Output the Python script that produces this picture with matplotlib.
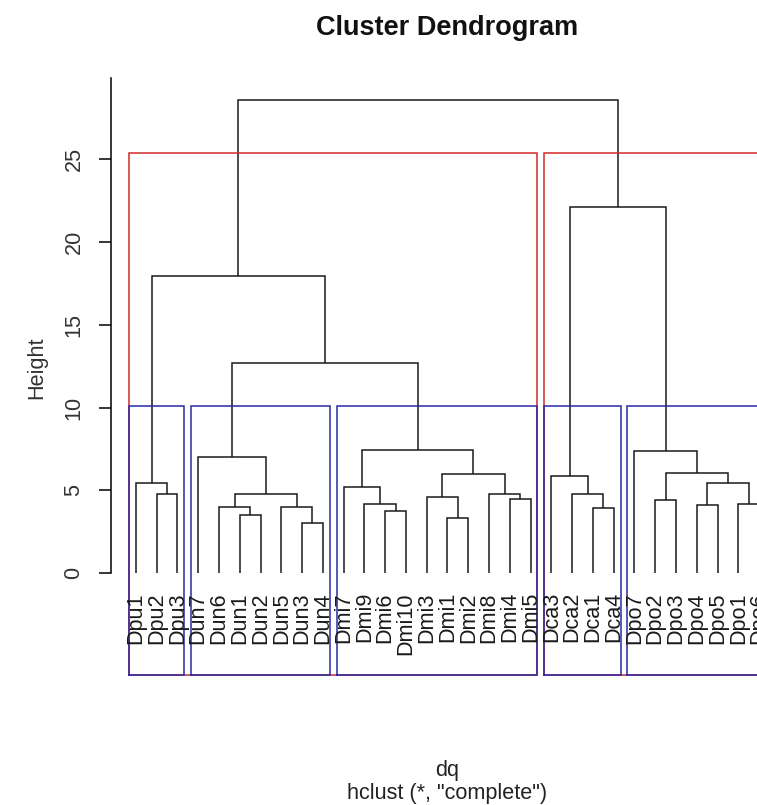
import matplotlib
matplotlib.use('Agg')
import matplotlib.pyplot as plt
import numpy as np

# ---------------- data ----------------
labels = ["Dpu1", "Dpu2", "Dpu3",
          "Dun7", "Dun6", "Dun1", "Dun2", "Dun5", "Dun3", "Dun4",
          "Dmi7", "Dmi9", "Dmi6", "Dmi10", "Dmi3", "Dmi1", "Dmi2", "Dmi8", "Dmi4", "Dmi5",
          "Dca3", "Dca2", "Dca1", "Dca4",
          "Dpo7", "Dpo2", "Dpo3", "Dpo4", "Dpo5", "Dpo1", "Dpo6"]

# R-style merge matrix: negative = leaf (1-based position in labels), positive = earlier merge row
merge_left = [-9, -16, -6, -13, -23, -5, -8, -28, -12, -30,
              -19, -26, -15, 6, -18, -22, -2, -11, 8, -1,
              -21, 13, 12, -4, -25, 18, 24, 20, 21, 28]
merge_right = [-10, -17, -7, -14, -24, 3, 1, -29, 4, -31,
               -20, -27, 2, 7, 11, 5, -3, 9, 10, 17,
               16, 15, 19, 14, 23, 22, 26, 27, 25, 29]
merge_height = [3.06, 3.34, 3.50, 3.74, 3.94, 4.00, 4.02, 4.11, 4.17, 4.18,
                4.47, 4.45, 4.61, 4.77, 4.77, 4.77, 4.79, 5.21, 5.45, 5.47,
                5.90, 5.98, 6.08, 7.00, 7.39, 7.45, 12.72, 17.93, 22.14, 28.58]

yticks = [0, 5, 10, 15, 20, 25]
k_red = 2
k_blue = 5

# ---------------- figure ----------------
plt.rcParams['font.family'] = ['Liberation Sans', 'DejaVu Sans']
W, H = 757, 805
fig = plt.figure(figsize=(W / 100, H / 100), dpi=100)
ax = fig.add_axes([111 / W, 130 / H, 673 / W, 597 / H])

n = len(labels)
leaf_x = np.arange(1, n + 1)
merge_x = []


def node_pos(ref):
    if ref < 0:
        return leaf_x[-ref - 1], 0.0
    return merge_x[ref - 1], merge_height[ref - 1]


lc = '#1a1a1a'
for l, r, h in zip(merge_left, merge_right, merge_height):
    xl, yl = node_pos(l)
    xr, yr = node_pos(r)
    ax.plot([xl, xl, xr, xr], [yl, h, h, yr], color=lc, lw=1.1,
            solid_joinstyle='miter', solid_capstyle='butt')
    merge_x.append((xl + xr) / 2)

# leaf labels
for x, lab in zip(leaf_x, labels):
    ax.annotate(lab, xy=(x, 0), xytext=(0, -13.5), textcoords='offset points',
                rotation=90, ha='center', va='top', fontsize=15.6, color='#1a1a1a',
                annotation_clip=False)

ylo, yhi = -6.14, 29.9
ax.set_xlim(1 - 0.04 * (n - 1), n + 0.04 * (n - 1))
ax.set_ylim(ylo, yhi)


def leaves_of(ref):
    if ref < 0:
        return [-ref]
    return leaves_of(merge_left[ref - 1]) + leaves_of(merge_right[ref - 1])


def clusters(k):
    nm = len(merge_height)
    removed = set(range(nm - k + 2, nm + 1))
    roots = []
    for m in removed:
        for c in (merge_left[m - 1], merge_right[m - 1]):
            if c < 0 or c not in removed:
                roots.append(c)
    spans = []
    for r in roots:
        lv = leaves_of(r)
        spans.append((min(lv), max(lv)))
    return sorted(spans)


def draw_rects(k, color):
    hs = sorted(merge_height, reverse=True)
    top = (hs[k - 2] + hs[k - 1]) / 2
    for lo, hi in clusters(k):
        x0 = lo - 1 + 0.66
        x1 = hi + 0.33
        ax.plot([x0, x0, x1, x1, x0], [ylo, top, top, ylo, ylo], color=color,
                lw=1.1, clip_on=False, solid_joinstyle='miter')


draw_rects(k_red, '#d42a2a')
draw_rects(k_blue, '#2a2aa6')

# axes styling
for s in ['top', 'right', 'bottom']:
    ax.spines[s].set_visible(False)
ax.spines['left'].set_bounds(0, yhi)
ax.spines['left'].set_linewidth(1.1)
ax.set_xticks([])
ax.set_yticks(yticks)
ax.set_yticklabels([str(t) for t in yticks], rotation=90, va='center', fontsize=15.6,
                   color='#333333')
ax.tick_params(axis='y', length=9, width=1.1, pad=10)
ax.patch.set_alpha(0)

fig.text(37 / W, 1 - 368 / H, 'Height', rotation=90, ha='center', va='center',
         fontsize=15.6, color='#333333')
fig.text(447 / W, 1 - 28 / H, 'Cluster Dendrogram', ha='center', va='center',
         fontsize=19.5, fontweight='bold', color='#111111')
fig.text(447 / W, 1 - 770 / H, 'dq', ha='center', va='center', fontsize=15.6,
         color='#222222')
fig.text(447 / W, 1 - 793 / H, 'hclust (*, "complete")', ha='center', va='center',
         fontsize=15.6, color='#222222')

fig.savefig('out.png', dpi=100)
